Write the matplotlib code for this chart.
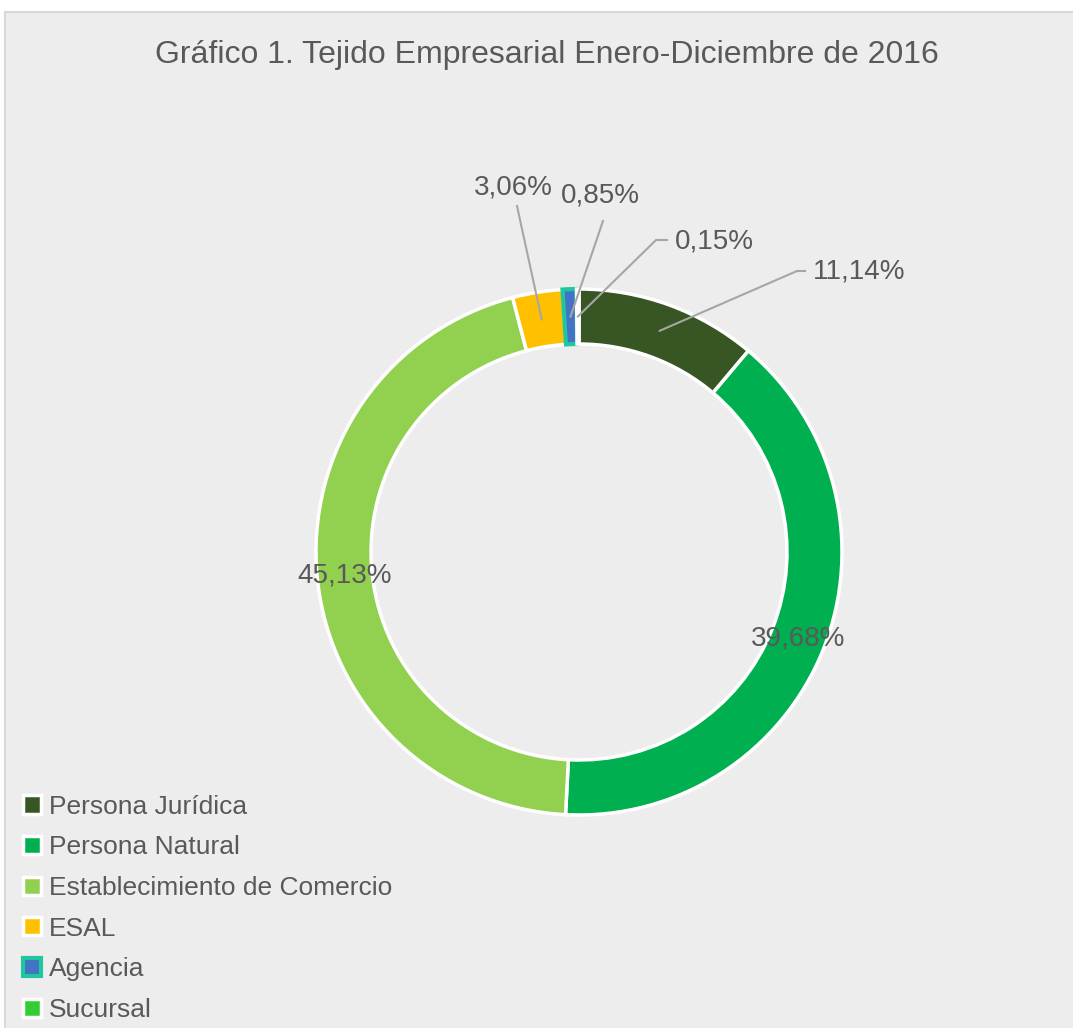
import matplotlib
matplotlib.use("Agg")
import matplotlib.pyplot as plt
import numpy as np

# Datos
categorias = ["Persona Jurídica", "Persona Natural", "Establecimiento de Comercio",
              "ESAL", "Agencia", "Sucursal"]
porcentajes = [11.14, 39.68, 45.13, 3.06, 0.85, 0.15]
etiquetas = ["11,14%", "39,68%", "45,13%", "3,06%", "0,85%", "0,15%"]
colores = ["#375623", "#00B050", "#92D050", "#FFC000", "#4472C4", "#33CC33"]

plt.rcParams['font.family'] = ['Liberation Sans Narrow', 'Liberation Sans', 'DejaVu Sans']
gris_texto = "#595959"

W, H = 1073, 1028
fig = plt.figure(figsize=(W / 100, H / 100), dpi=100, facecolor="white")
ax = fig.add_axes([0, 0, 1, 1])

# Panel gris
ax.add_patch(plt.Rectangle((5, -5), W, H - 12 + 5, facecolor="#EDEDED",
                           edgecolor="#D9D9D9", lw=1.5, zorder=0))

cx, cy = 579, H - 552
R = 263
ancho = 55

wedges, _ = ax.pie(porcentajes, colors=colores, startangle=90, counterclock=False,
                   radius=R, center=(cx, cy), frame=True,
                   wedgeprops=dict(width=ancho, edgecolor="white", linewidth=2.5))
ax.set_xlim(0, W)
ax.set_ylim(0, H)
ax.set_aspect("equal")
ax.axis("off")
wedges[4].set_edgecolor("#1FC7A0")
wedges[4].set_linewidth(3)
for w in wedges:
    w.set_zorder(2)

r_mid = R - ancho / 2

def punto_medio(w):
    ang = np.deg2rad((w.theta1 + w.theta2) / 2)
    return cx + r_mid * np.cos(ang), cy + r_mid * np.sin(ang)

estilo = dict(fontsize=20, color=gris_texto, va="center", zorder=5)

# Etiquetas dentro del anillo
for i in (1, 2):
    x, y = punto_medio(wedges[i])
    ax.text(x, y, etiquetas[i], ha="center", **estilo)

# Etiquetas con líneas guía: (posición texto, alineación, puntos de la línea)
guias = {
    0: ((813, 272), "left", [(797, 271), (805, 271)]),
    3: ((513, 187), "center", [(517, 206)]),
    4: ((600, 196), "center", [(603, 221)]),
    5: ((675, 242), "left", [(656, 240), (667, 240)]),
}
for i, (pos_txt, alin, codo) in guias.items():
    x0, y0 = punto_medio(wedges[i])
    xs = [x0] + [p[0] for p in codo]
    ys = [y0] + [H - p[1] for p in codo]
    ax.plot(xs, ys, color="#A6A6A6", lw=1.5, zorder=4)
    ax.text(pos_txt[0], H - pos_txt[1], etiquetas[i], ha=alin, **estilo)

# Título
ax.text(547, H - 55, "Gráfico 1. Tejido Empresarial Enero-Diciembre de 2016",
        fontsize=23, color=gris_texto, ha="center", va="center")

# Leyenda
leg = ax.legend(wedges, categorias, loc="lower left", bbox_to_anchor=(0.004, -0.012),
                bbox_transform=fig.transFigure, frameon=False, fontsize=19,
                handlelength=0.68, handleheight=0.68, handletextpad=0.3,
                labelspacing=0.63, borderpad=0.2)
for t in leg.get_texts():
    t.set_color(gris_texto)

fig.savefig("out.png", dpi=100, facecolor="white")
